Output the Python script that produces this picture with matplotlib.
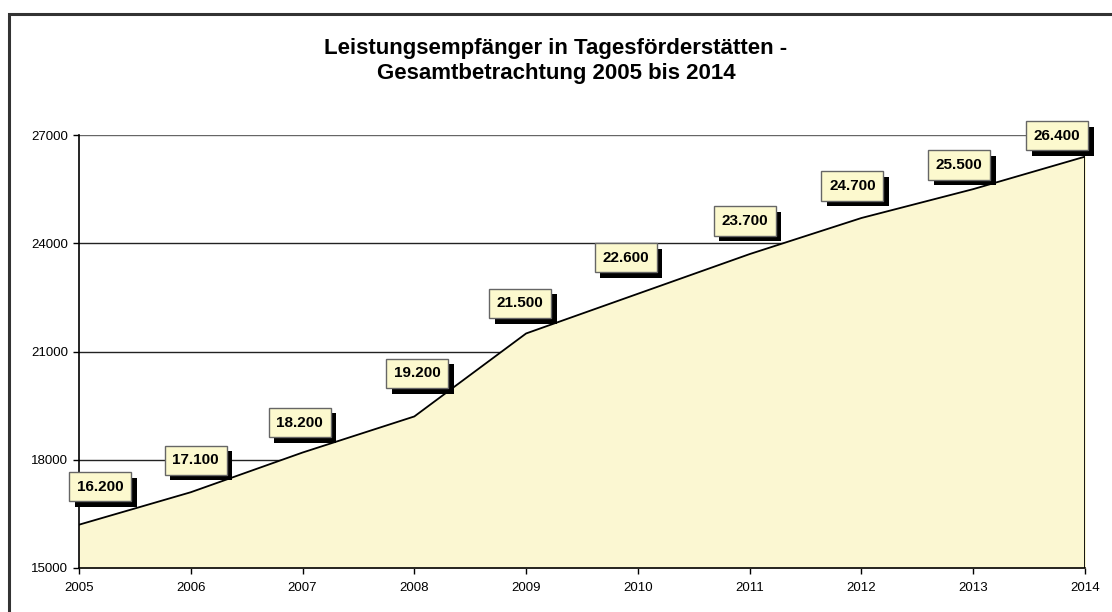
import matplotlib
matplotlib.use("Agg")
import matplotlib.pyplot as plt
import matplotlib.patheffects as pe
from matplotlib.patches import Rectangle

years = [2005, 2006, 2007, 2008, 2009, 2010, 2011, 2012, 2013, 2014]
values = [16200, 17100, 18200, 19200, 21500, 22600, 23700, 24700, 25500, 26400]
value_labels = ["16.200", "17.100", "18.200", "19.200", "21.500",
                "22.600", "23.700", "24.700", "25.500", "26.400"]
y_ticks = [15000, 18000, 21000, 24000, 27000]
title = "Leistungsempfänger in Tagesförderstätten -\nGesamtbetrachtung 2005 bis 2014"

# label offsets (pixels) from each point to box centre
label_offsets = [(21, 38), (5, 32), (-3, 30), (3, 43), (-6, 30),
                 (-12, 36), (-5, 33), (-9, 32), (-14, 24), (-28, 21)]

W, H = 1112, 612
fig = plt.figure(figsize=(W / 100, H / 100), dpi=100)
plt.rcParams['font.family'] = ['Liberation Sans', 'DejaVu Sans']

# outer border (clipped at right/bottom)
fig.patches.append(Rectangle((9 / W, -0.1), 1.2, 1 - 14 / H + 0.1,
                             transform=fig.transFigure, fill=False,
                             edgecolor='#333333', linewidth=2.2))

left, right = 79 / W, 1085 / W
bottom, top = 1 - 568 / H, 1 - 135 / H
ax = fig.add_axes([left, bottom, right - left, top - bottom])
ax.set_xlim(years[0], years[-1])
ax.set_ylim(y_ticks[0], y_ticks[-1])

for yv in y_ticks[1:]:
    ax.axhline(yv, color='#666666' if yv == y_ticks[-1] else '#222222',
               linewidth=1.0, zorder=1)

ax.fill_between(years, values, y_ticks[0], color='#FBF7D2', zorder=2)
ax.plot(years, values, color='black', linewidth=1.3, zorder=3)
ax.plot([years[-1], years[-1]], [y_ticks[0], values[-1]], color='black',
        linewidth=1.3, zorder=3)

for s in ['top', 'right']:
    ax.spines[s].set_visible(False)
for s in ['left', 'bottom']:
    ax.spines[s].set_color('black')
    ax.spines[s].set_linewidth(1.2)
    ax.spines[s].set_zorder(4)

ax.set_xticks(years)
ax.set_xticklabels([str(y) for y in years], fontsize=9.5)
ax.set_yticks(y_ticks)
ax.set_yticklabels([str(v) for v in y_ticks], fontsize=9.5)
ax.tick_params(axis='both', direction='out', length=4, width=1, color='black',
               pad=4)
ax.tick_params(axis='x', pad=6)
ax.patch.set_alpha(0)

for x, v, lab, (dx, dy) in zip(years, values, value_labels, label_offsets):
    t = ax.annotate(lab, (x, v), xytext=(dx, dy), textcoords='offset pixels',
                    ha='center', va='center', fontsize=11, fontweight='bold',
                    zorder=6, annotation_clip=False,
                    bbox=dict(boxstyle='square,pad=0.5', facecolor='#FCF9CE',
                              edgecolor='#666666', linewidth=1.0))
    t.get_bbox_patch().set_path_effects(
        [pe.SimplePatchShadow(offset=(4, -4), shadow_rgbFace='black',
                              alpha=1.0), pe.Normal()])

fig.text(0.5, 1 - 61 / H, title, ha='center', va='center', fontsize=16,
         fontweight='bold', linespacing=1.3)

fig.savefig("out.png", dpi=100)
